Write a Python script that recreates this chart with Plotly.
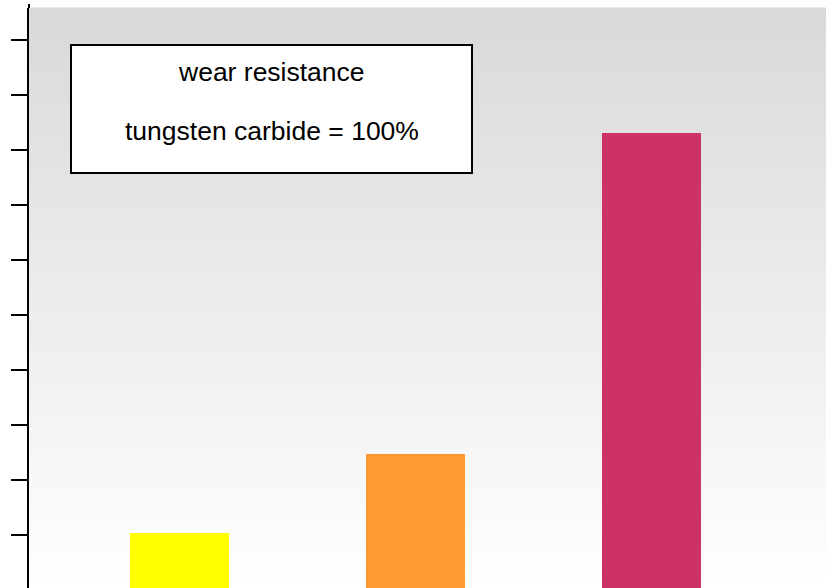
import plotly.graph_objects as go

# Data
materials = ["tungsten carbide", "material B", "material C"]
wear_resistance = [103, 247, 830]  # percent, tungsten carbide = 100%
bar_colors = ["#ffff00", "#fe9934", "#cd3265"]
legend_lines = ["wear resistance", "tungsten carbide = 100%"]

W, H = 826, 588
ML, MT = 29, 8
PW, PH = W - ML, H - MT

def px_x(px):
    return (px - ML) / PW

def px_y(py):
    return (H - py) / PH

fig = go.Figure()
fig.add_trace(go.Bar(
    x=list(range(len(materials))),
    y=wear_resistance,
    width=0.42,
    marker=dict(color=bar_colors, line=dict(width=0)),
    hovertext=materials,
    showlegend=False,
))

shapes = []
# vertical gradient background
n = 116
for i in range(n):
    y0 = i / n
    y1 = (i + 1) / n
    t = (y0 + y1) / 2  # 0 bottom, 1 top
    g = round(255 - 38 * t)
    shapes.append(dict(type="rect", xref="paper", yref="paper", x0=0, x1=1,
                       y0=y0, y1=y1 + 0.001, fillcolor=f"rgb({g},{g},{g})",
                       line=dict(width=0), layer="below"))
# axis extension above plot
shapes.append(dict(type="line", xref="paper", yref="paper", x0=0, x1=0,
                   y0=1, y1=1 + 4 / PH, line=dict(color="black", width=2)))
# legend box
shapes.append(dict(type="rect", xref="paper", yref="paper",
                   x0=px_x(71), x1=px_x(472), y0=px_y(173), y1=px_y(45),
                   fillcolor="white", line=dict(color="black", width=2), layer="above"))

annotations = []
for line, py in zip(legend_lines, [72, 131]):
    annotations.append(dict(text=line, xref="paper", yref="paper",
                            x=px_x(271.5), y=px_y(py), xanchor="center", yanchor="middle",
                            showarrow=False,
                            font=dict(family="Liberation Sans, Arial, sans-serif", size=26.5, color="black")))

fig.update_layout(
    width=W, height=H,
    margin=dict(l=ML, r=0, t=MT, b=0, pad=0),
    paper_bgcolor="white",
    plot_bgcolor="rgba(0,0,0,0)",
    shapes=shapes,
    annotations=annotations,
    bargap=0,
    xaxis=dict(range=[-0.638, 2.739], showticklabels=False, ticks="", showgrid=False,
               zeroline=False, showline=False, fixedrange=True),
    yaxis=dict(range=[3.6, 1058], dtick=100, tick0=0, ticks="outside", ticklen=16,
               tickwidth=2, tickcolor="black", showticklabels=False, showgrid=False,
               zeroline=False, showline=True, linecolor="black", linewidth=2),
)

fig.write_html(
    "out.html",
    config={"displayModeBar": False},
    post_script="document.body.style.margin='0';document.body.style.padding='0';"
                "document.body.style.overflow='hidden';"
                "document.documentElement.style.overflow='hidden';",
)
